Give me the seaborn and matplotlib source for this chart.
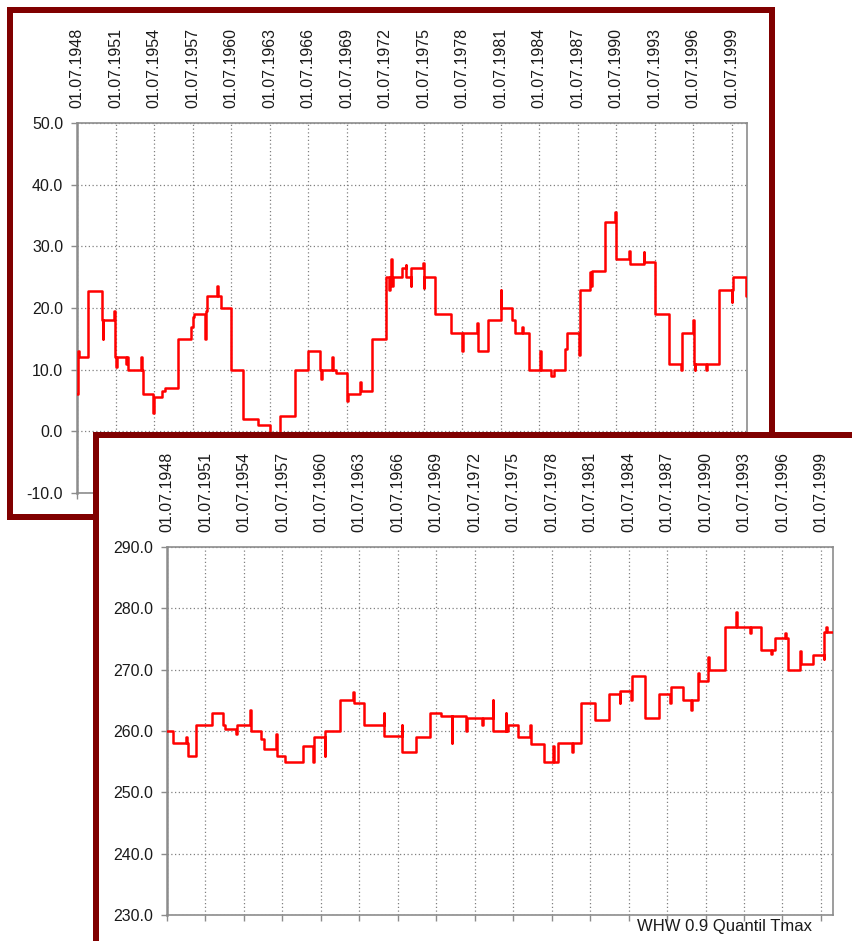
import matplotlib
matplotlib.use("Agg")
import matplotlib.pyplot as plt
from matplotlib.patches import Rectangle
from matplotlib.ticker import FixedLocator, FuncFormatter
import seaborn as sns
import pandas as pd

# ---------------- data ----------------
# upper panel: step series (time in decimal years, value)
top_years = [1948.50, 1948.55, 1948.62, 1949.38, 1950.42, 1950.50, 1950.56, 1951.41, 1951.47, 1951.55,
             1951.62, 1952.30, 1952.38, 1952.50, 1953.50, 1953.56, 1953.62, 1954.40, 1954.45, 1954.52,
             1955.10, 1955.36, 1956.40, 1957.40, 1957.50, 1957.60, 1958.45, 1958.52, 1958.60, 1959.40,
             1959.46, 1959.70, 1960.50, 1961.40, 1962.60, 1963.50, 1964.30, 1965.50, 1966.50, 1967.45,
             1967.50, 1967.56, 1968.40, 1968.46, 1968.70, 1969.50, 1969.55, 1969.60, 1970.55, 1970.61,
             1971.47, 1972.55, 1972.80, 1972.86, 1973.00, 1973.06, 1973.12, 1973.80, 1974.10, 1974.16,
             1974.50, 1974.56, 1975.45, 1975.50, 1975.56, 1976.40, 1977.60, 1978.50, 1978.56, 1979.70,
             1979.76, 1980.55, 1981.50, 1981.56, 1982.40, 1982.60, 1983.20, 1983.26, 1983.70, 1984.60,
             1984.66, 1985.40, 1985.70, 1986.50, 1986.70, 1987.60, 1987.66, 1988.50, 1988.56, 1988.60,
             1989.65, 1990.40, 1990.46, 1990.52, 1991.50, 1991.56, 1992.65, 1992.71, 1993.50, 1994.60,
             1995.55, 1995.60, 1996.50, 1996.56, 1996.62, 1996.68, 1997.50, 1997.56, 1998.55, 1999.50,
             1999.56, 1999.62, 2000.60, 2000.70]
top_values = [6.0, 13.0, 12.0, 22.8, 18.0, 15.0, 18.0, 19.5, 12.0, 10.5,
              12.0, 11.0, 12.0, 10.0, 12.0, 10.0, 6.0, 5.4, 3.0, 5.5,
              6.5, 7.0, 15.0, 17.0, 18.5, 19.0, 15.0, 19.5, 22.0, 23.5,
              22.0, 20.0, 10.0, 2.0, 1.0, -1.0, 2.5, 10.0, 13.0, 10.0,
              8.5, 10.0, 12.0, 10.0, 9.5, 6.0, 5.0, 6.0, 8.0, 6.5,
              15.0, 25.0, 23.0, 25.0, 28.0, 23.5, 25.0, 26.5, 27.0, 25.0,
              23.5, 26.5, 27.3, 23.2, 25.0, 19.0, 16.0, 13.0, 16.0, 17.5,
              13.0, 18.0, 23.0, 20.0, 18.0, 16.0, 17.0, 16.0, 10.0, 13.0,
              10.0, 9.0, 10.0, 13.3, 16.0, 12.4, 23.0, 25.9, 23.5, 26.0,
              34.0, 35.6, 34.0, 28.0, 29.2, 27.2, 29.0, 27.5, 19.0, 11.0,
              10.0, 16.0, 18.0, 11.0, 10.0, 11.0, 10.0, 11.0, 23.0, 21.0,
              23.0, 25.0, 22.0, 22.0]

# lower panel: WHW 0.9 Quantil Tmax
bot_years = [1948.50, 1949.00, 1950.00, 1950.06, 1950.10, 1950.80, 1951.98, 1952.90, 1953.00, 1953.90,
             1953.96, 1955.00, 1955.06, 1955.80, 1956.10, 1957.00, 1957.06, 1957.70, 1959.10, 1959.90,
             1959.96, 1960.80, 1960.86, 1962.00, 1963.00, 1963.06, 1963.90, 1965.40, 1965.46, 1966.80,
             1966.86, 1967.90, 1969.00, 1969.90, 1970.70, 1970.76, 1971.85, 1971.91, 1973.10, 1973.16,
             1973.90, 1973.96, 1974.90, 1974.96, 1975.10, 1975.90, 1976.80, 1976.86, 1977.90, 1978.60,
             1978.66, 1979.00, 1980.10, 1980.16, 1980.80, 1981.85, 1983.00, 1983.80, 1983.86, 1984.70,
             1984.76, 1985.75, 1986.90, 1987.75, 1987.81, 1988.75, 1989.40, 1989.46, 1989.90, 1989.96,
             1990.70, 1990.76, 1992.00, 1992.90, 1992.96, 1994.00, 1994.06, 1994.85, 1995.60, 1995.66,
             1995.90, 1996.70, 1996.76, 1996.90, 1997.90, 1997.96, 1998.90, 1999.70, 1999.76, 1999.90,
             1999.96, 2000.40]
bot_values = [260.0, 258.0, 259.0, 258.0, 256.0, 261.0, 263.0, 261.0, 260.4, 259.5,
              261.0, 263.4, 260.0, 258.7, 257.0, 259.5, 256.0, 255.0, 257.5, 255.0,
              259.0, 256.0, 260.0, 265.0, 266.3, 264.5, 261.0, 263.0, 259.2, 261.0,
              256.6, 259.0, 263.0, 262.4, 258.0, 262.5, 260.0, 262.1, 261.0, 262.1,
              265.0, 260.0, 263.0, 260.0, 261.0, 259.0, 261.0, 257.8, 255.0, 257.5,
              255.0, 258.0, 256.5, 258.0, 264.5, 261.8, 266.1, 264.6, 266.5, 265.0,
              268.9, 262.2, 266.1, 264.6, 267.2, 265.0, 263.5, 265.0, 269.4, 268.1,
              272.0, 270.0, 277.0, 279.4, 277.0, 276.0, 277.0, 273.2, 272.5, 273.2,
              275.1, 276.0, 275.1, 270.0, 273.0, 271.0, 272.4, 271.8, 276.2, 277.0,
              276.2, 276.2]

tick_years = list(range(1948, 2000, 3))
tick_labels = [f"01.07.{y}" for y in tick_years]
top_yticks = [-10, 0, 10, 20, 30, 40, 50]
bot_yticks = [230, 240, 250, 260, 270, 280, 290]
caption = "WHW 0.9 Quantil Tmax"

# ---------------- style ----------------
sns.set_style("white")
plt.rcParams["font.family"] = ["Liberation Sans", "DejaVu Sans"]

W, H = 852, 941
fig = plt.figure(figsize=(W / 100, H / 100), dpi=100)
fig.patch.set_facecolor("white")

MAROON = "#800000"
RED = "#ff0000"
GRID = "#808080"
SPINE = "#8c8c8c"
TXT = "#1a1a1a"


def fig_rect(x0, y0, x1, y1):
    # pixel box (top-left origin) -> figure fraction [l, b, w, h]
    return [x0 / W, 1 - y1 / H, (x1 - x0) / W, (y1 - y0) / H]


def panel(x0, y0, x1, y1, z):
    lw_px = 6
    r = Rectangle((x0 / W, 1 - y1 / H), (x1 - x0) / W, (y1 - y0) / H,
                  transform=fig.transFigure, facecolor="white", edgecolor=MAROON,
                  linewidth=lw_px * 72 / 100, zorder=z)
    fig.add_artist(r)


def style_axes(ax, xlim, ylim, yticks):
    ax.set_xlim(*xlim)
    ax.set_ylim(*ylim)
    ax.set_facecolor("white")
    ax.xaxis.set_major_locator(FixedLocator([y + 0.5 for y in tick_years]))
    ax.set_xticklabels(tick_labels)
    ax.set_yticks(yticks)
    ax.yaxis.set_major_formatter(FuncFormatter(lambda v, p: f"{v:.1f}"))
    ax.tick_params(axis="x", top=False, labeltop=True, bottom=True, labelbottom=False,
                   length=4, width=1, color=SPINE, pad=7, labelsize=11.5, labelcolor=TXT,
                   labelrotation=90)
    ax.tick_params(axis="y", left=True, length=4, width=1, color=SPINE, pad=6,
                   labelsize=11.5, labelcolor=TXT)
    ax.grid(True, color=GRID, linestyle=(0, (1, 2)), linewidth=0.9)
    for s in ax.spines.values():
        s.set_color(SPINE)
        s.set_linewidth(1.2)
    ax.spines["left"].set_linewidth(1.8)
    ax.set_xlabel("")
    ax.set_ylabel("")


# upper panel
panel(10, 10, 772, 517, 0.1)
ax1 = fig.add_axes(fig_rect(77, 123, 747, 493), zorder=1)
df1 = pd.DataFrame({"t": top_years, "v": top_values})
sns.lineplot(data=df1, x="t", y="v", ax=ax1, color=RED, linewidth=1.8,
             drawstyle="steps-post", estimator=None, sort=False, zorder=3)
style_axes(ax1, (1948.5, 2000.7), (-10, 50), top_yticks)

# lower panel (overlapping)
panel(96, 435, 880, 944, 2)
ax2 = fig.add_axes(fig_rect(167, 547, 832.5, 915), zorder=3)
df2 = pd.DataFrame({"t": bot_years, "v": bot_values})
sns.lineplot(data=df2, x="t", y="v", ax=ax2, color=RED, linewidth=1.8,
             drawstyle="steps-post", estimator=None, sort=False, zorder=3)
style_axes(ax2, (1948.5, 2000.4), (230, 290), bot_yticks)

fig.text(812 / W, 1 - 927 / H, caption, ha="right", va="center", fontsize=12,
         color=TXT, zorder=5)

fig.savefig("out.png", dpi=100, facecolor="white")
